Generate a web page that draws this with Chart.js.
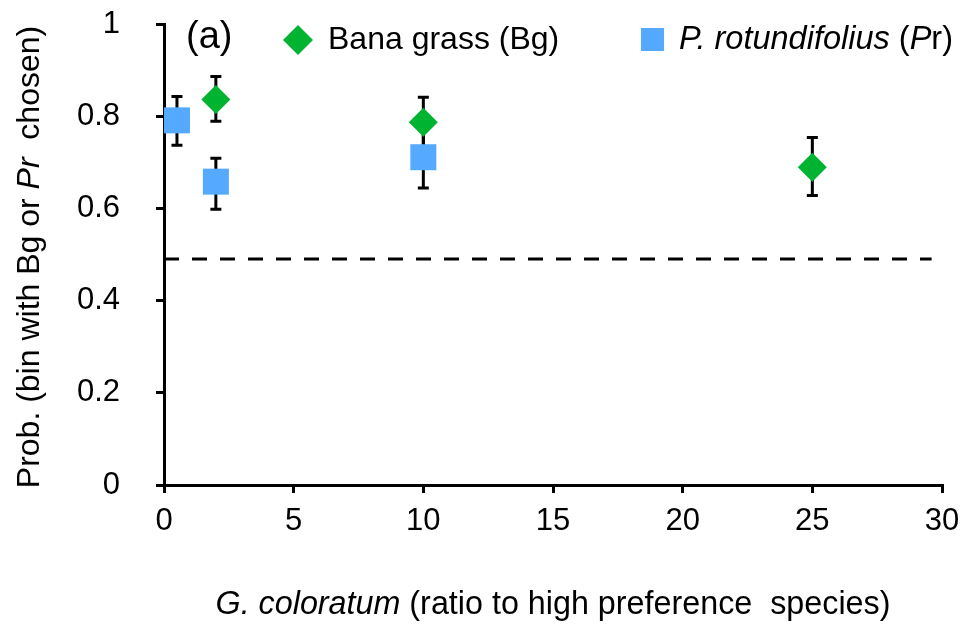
<!DOCTYPE html>
<html>
<head>
<meta charset="utf-8">
<script src="https://cdn.jsdelivr.net/npm/chart.js@4/dist/chart.umd.min.js"></script>
<style>
  html, body { margin: 0; padding: 0; background: #fff; }
  canvas { display: block; }
</style>
</head>
<body>
<canvas id="c" width="965" height="628"></canvas>
<script>
// Bana grass (Bg): mean probability and error-bar limits per ratio
const ratioBg = [2, 10, 25];
const probBg  = [0.836, 0.787, 0.689];
const lowBg   = [0.789, 0.733, 0.628];
const highBg  = [0.886, 0.841, 0.754];

// P. rotundifolius (Pr)
const ratioPr = [0.5, 2, 10];
const probPr  = [0.791, 0.658, 0.711];
const lowPr   = [0.737, 0.598, 0.644];
const highPr  = [0.843, 0.709, 0.778];

// reference level (dashed)
const refX = [0, 29.6];
const refY = [0.49, 0.49];

// axis ticks
const xTicks = [0, 5, 10, 15, 20, 25, 30];
const yTicks = [0, 0.2, 0.4, 0.6, 0.8, 1];
const yTickLabels = ['0', '0.2', '0.4', '0.6', '0.8', '1'];

const FONT = "'Liberation Sans', Arial, sans-serif";
const GREEN = '#00B432';
const BLUE = '#55AAFF';

const toPoints = (xs, ys) => xs.map((v, i) => ({ x: v, y: ys[i] }));

// error-bar limits, keyed by dataset index
const errorLimits = {
  1: { low: lowBg, high: highBg },
  2: { low: lowPr, high: highPr }
};

const errorBars = {
  id: 'errorBars',
  beforeDatasetsDraw(chart) {
    const { ctx, scales: { x, y } } = chart;
    ctx.save();
    ctx.strokeStyle = '#000';
    ctx.lineWidth = 3;
    Object.keys(errorLimits).forEach(k => {
      const ds = chart.data.datasets[k];
      const lim = errorLimits[k];
      ds.data.forEach((p, i) => {
        const px = x.getPixelForValue(p.x);
        const lo = y.getPixelForValue(lim.low[i]);
        const hi = y.getPixelForValue(lim.high[i]);
        ctx.beginPath();
        ctx.moveTo(px, lo); ctx.lineTo(px, hi);
        ctx.moveTo(px - 5.5, lo); ctx.lineTo(px + 5.5, lo);
        ctx.moveTo(px - 5.5, hi); ctx.lineTo(px + 5.5, hi);
        ctx.stroke();
      });
    });
    ctx.restore();
  }
};

// text made of plain and italic runs
function runsWidth(ctx, runs, size) {
  let w = 0;
  runs.forEach(r => {
    ctx.font = (r.i ? 'italic ' : '') + size + 'px ' + FONT;
    w += ctx.measureText(r.t).width;
  });
  return w;
}
function drawRuns(ctx, runs, x, y, size, align) {
  let cx = x;
  if (align === 'center') cx = x - runsWidth(ctx, runs, size) / 2;
  ctx.textAlign = 'left';
  ctx.textBaseline = 'middle';
  runs.forEach(r => {
    ctx.font = (r.i ? 'italic ' : '') + size + 'px ' + FONT;
    ctx.fillText(r.t, cx, y);
    cx += ctx.measureText(r.t).width;
  });
}

const annotations = {
  id: 'annotations',
  afterDraw(chart) {
    const ctx = chart.ctx;
    ctx.save();
    ctx.fillStyle = '#000';

    // panel letter
    drawRuns(ctx, [{ t: '(a)' }], 186, 38, 38, 'left');

    // legend: Bg
    ctx.fillStyle = GREEN;
    ctx.beginPath();
    ctx.moveTo(298, 25); ctx.lineTo(313, 40); ctx.lineTo(298, 55); ctx.lineTo(283, 40);
    ctx.closePath();
    ctx.fill();
    ctx.fillStyle = '#000';
    drawRuns(ctx, [{ t: 'Bana grass (Bg)' }], 328, 40, 32, 'left');

    // legend: Pr
    ctx.fillStyle = BLUE;
    ctx.fillRect(641, 28, 23, 23);
    ctx.fillStyle = '#000';
    drawRuns(ctx, [{ t: 'P. rotundifolius', i: true }, { t: ' (' }, { t: 'P', i: true }, { t: 'r)' }], 679, 40, 32.5, 'left');

    // x-axis title
    drawRuns(ctx, [{ t: 'G. coloratum', i: true }, { t: ' (ratio to high preference  species)' }], 553, 605, 32.3, 'center');

    // y-axis title
    ctx.translate(30, 257);
    ctx.rotate(-Math.PI / 2);
    drawRuns(ctx, [{ t: 'Prob. (bin with Bg or ' }, { t: 'Pr', i: true }, { t: '  chosen)' }], 0, 0, 32, 'center');

    ctx.restore();
  }
};

new Chart(document.getElementById('c'), {
  type: 'scatter',
  data: {
    datasets: [
      {
        type: 'line',
        data: toPoints(refX, refY),
        borderColor: '#000',
        borderWidth: 3,
        borderDash: [15, 13],
        pointRadius: 0,
        showLine: true,
        fill: false,
        clip: false,
        order: 3
      },
      {
        label: 'Bana grass (Bg)',
        data: toPoints(ratioBg, probBg),
        pointStyle: 'rectRot',
        pointRadius: 14.5,
        backgroundColor: GREEN,
        borderWidth: 0,
        clip: false,
        order: 2
      },
      {
        label: 'P. rotundifolius (Pr)',
        data: toPoints(ratioPr, probPr),
        pointStyle: 'rect',
        pointRadius: 18.4,
        backgroundColor: BLUE,
        borderWidth: 0,
        clip: false,
        order: 1
      }
    ]
  },
  options: {
    responsive: false,
    animation: false,
    events: [],
    layout: { padding: { left: 0, right: 23, top: 24, bottom: 0 } },
    plugins: { legend: { display: false }, tooltip: { enabled: false } },
    scales: {
      x: {
        type: 'linear',
        min: 0, max: 30,
        afterBuildTicks: s => { s.ticks = xTicks.map(v => ({ value: v })); },
        afterFit: s => { s.height = 143; s.paddingLeft = 0; s.paddingRight = 0; },
        grid: { display: true, drawOnChartArea: false, drawTicks: true, tickLength: 8, color: '#000', lineWidth: 3 },
        border: { display: true, color: '#000', width: 3 },
        ticks: { font: { family: FONT, size: 31 }, color: '#000', padding: 10, maxRotation: 0, autoSkip: false }
      },
      y: {
        type: 'linear',
        min: 0, max: 1,
        afterBuildTicks: s => { s.ticks = yTicks.map(v => ({ value: v })); },
        afterFit: s => { s.width = 164; s.paddingTop = 0; s.paddingBottom = 0; },
        grid: { display: true, drawOnChartArea: false, drawTicks: true, tickLength: 8, color: '#000', lineWidth: 3 },
        border: { display: true, color: '#000', width: 3 },
        ticks: {
          font: { family: FONT, size: 31 }, color: '#000', padding: 36, autoSkip: false,
          callback: v => yTickLabels[yTicks.indexOf(v)]
        }
      }
    }
  },
  plugins: [errorBars, annotations]
});
</script>
</body>
</html>
